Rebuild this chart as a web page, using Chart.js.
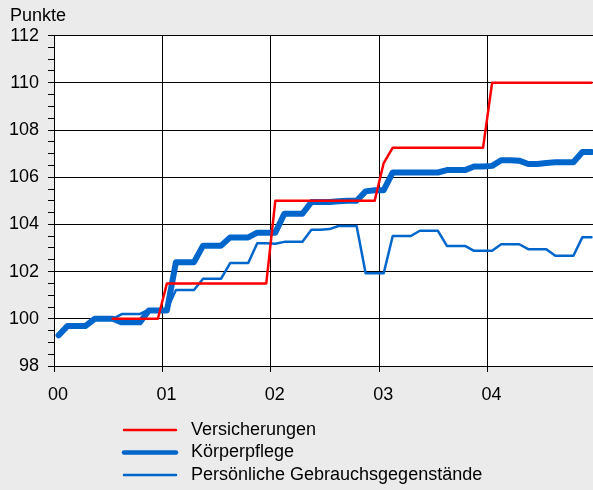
<!DOCTYPE html>
<html>
<head>
<meta charset="utf-8">
<title>Punkte</title>
<script src="https://cdn.jsdelivr.net/npm/chart.js@4.4.1/dist/chart.umd.min.js"></script>
<style>
  body { margin: 0; background: #ebebeb; }
  canvas { display: block; }
</style>
</head>
<body>
<canvas id="chart" width="593" height="490"></canvas>
<script>
// monthly index values, Jan 2000 .. Dec 2004
const versicherungen = [
  null, null, null, null, null, null, 100.0, 100.0, 100.0, 100.0, 100.0, 100.0,
  101.5, 101.5, 101.5, 101.5, 101.5, 101.5, 101.5, 101.5, 101.5, 101.5, 101.5, 101.5,
  105.0, 105.0, 105.0, 105.0, 105.0, 105.0, 105.0, 105.0, 105.0, 105.0, 105.0, 105.0,
  106.6, 107.25, 107.25, 107.25, 107.25, 107.25, 107.25, 107.25, 107.25, 107.25, 107.25, 107.25,
  110.0, 110.0, 110.0, 110.0, 110.0, 110.0, 110.0, 110.0, 110.0, 110.0, 110.0, 110.0
];
const koerperpflege = [
  99.3, 99.7, 99.7, 99.7, 100.0, 100.0, 100.0, 99.85, 99.85, 99.85, 100.35, 100.35,
  100.35, 102.4, 102.4, 102.4, 103.1, 103.1, 103.1, 103.45, 103.45, 103.45, 103.65, 103.65,
  103.65, 104.45, 104.45, 104.45, 104.95, 104.95, 104.95, 104.98, 105.0, 105.0, 105.4, 105.45,
  105.45, 106.2, 106.2, 106.2, 106.2, 106.2, 106.2, 106.3, 106.3, 106.3, 106.45, 106.45,
  106.48, 106.72, 106.72, 106.7, 106.56, 106.56, 106.6, 106.63, 106.63, 106.63, 107.07, 107.07
];
const gebrauchsgegenstaende = [
  99.3, 99.7, 99.7, 99.7, 100.0, 100.0, 100.0, 100.2, 100.2, 100.2, 100.4, 100.4,
  100.4, 101.22, 101.22, 101.22, 101.7, 101.7, 101.7, 102.36, 102.36, 102.36, 103.2, 103.2,
  103.18, 103.26, 103.26, 103.26, 103.77, 103.77, 103.8, 103.93, 103.93, 103.93, 101.93, 101.93,
  101.93, 103.51, 103.51, 103.51, 103.73, 103.73, 103.73, 103.09, 103.09, 103.09, 102.88, 102.88,
  102.88, 103.16, 103.16, 103.16, 102.95, 102.95, 102.95, 102.67, 102.67, 102.67, 103.46, 103.46
];
const yearTicks = [0, 12, 24, 36, 48];
const yearLabels = ["00", "01", "02", "03", "04"];

const fontFamily = "'Liberation Sans', Arial, sans-serif";
Chart.defaults.font.family = fontFamily;
Chart.defaults.color = "#000";

function toPoints(values) {
  return values.map((v, i) => ({ x: i + 0.5, y: v }));
}

const legendWidths = [2.5, 4.5, 2.5];

const backgroundPlugin = {
  id: "background",
  beforeDraw(chart) {
    const ctx = chart.ctx;
    const a = chart.chartArea;
    ctx.save();
    ctx.fillStyle = "#ebebeb";
    ctx.fillRect(0, 0, chart.width, chart.height);
    ctx.fillStyle = "#fff";
    ctx.fillRect(a.left, a.top, a.right - a.left, a.bottom - a.top);
    ctx.restore();
  },
};

const listLegendPlugin = {
  id: "listLegend",
  afterDraw(chart) {
    const ctx = chart.ctx;
    ctx.save();
    ctx.font = "18px " + fontFamily;
    ctx.textBaseline = "middle";
    ctx.fillStyle = "#000";
    chart.data.datasets.forEach((ds, i) => {
      const y = 430 + i * 22.5;
      ctx.strokeStyle = ds.borderColor;
      ctx.lineWidth = legendWidths[i];
      ctx.lineCap = "round";
      ctx.beginPath();
      ctx.moveTo(124, y);
      ctx.lineTo(176, y);
      ctx.stroke();
      ctx.fillText(ds.label, 191, y);
    });
    ctx.restore();
  },
};

new Chart(document.getElementById("chart"), {
  type: "line",
  data: {
    datasets: [
      {
        label: "Versicherungen",
        data: toPoints(versicherungen),
        borderColor: "#ff0000",
        borderWidth: 2.5,
      },
      {
        label: "Körperpflege",
        data: toPoints(koerperpflege),
        borderColor: "#0066cc",
        borderWidth: 6,
      },
      {
        label: "Persönliche Gebrauchsgegenstände",
        data: toPoints(gebrauchsgegenstaende),
        borderColor: "#0066cc",
        borderWidth: 2.5,
      },
    ],
  },
  options: {
    responsive: false,
    animation: false,
    devicePixelRatio: 1,
    layout: { padding: { left: 10, right: 0, top: 0, bottom: 84 } },
    elements: {
      point: { radius: 0 },
      line: { tension: 0, borderJoinStyle: "round", borderCapStyle: "round" },
    },
    plugins: {
      legend: { display: false },
      tooltip: { enabled: false },
      title: {
        display: true,
        text: "Punkte",
        align: "start",
        color: "#000",
        font: { size: 18, weight: "normal" },
        padding: { top: 5, bottom: 9 },
      },
    },
    scales: {
      x: {
        type: "linear",
        min: 0,
        max: 59.67,
        afterBuildTicks: (scale) => {
          scale.ticks = yearTicks.map((v) => ({ value: v }));
        },
        afterFit: (scale) => {
          scale.height = 40;
        },
        ticks: {
          autoSkip: false,
          maxRotation: 0,
          padding: 12,
          labelOffset: 4,
          font: { size: 18 },
          color: "#000",
          callback: (v) => yearLabels[yearTicks.indexOf(v)],
        },
        grid: { color: "#000", tickColor: "#000", tickLength: 6 },
        border: { color: "#000", width: 1 },
      },
      y: {
        min: 98,
        max: 112,
        afterFit: (scale) => {
          scale.width = 44;
        },
        ticks: {
          stepSize: 0.5,
          autoSkip: false,
          padding: 9,
          font: { size: 18 },
          color: "#000",
          callback: (v) => (v % 2 === 0 ? v : ""),
        },
        grid: {
          color: (c) => (c.tick && c.tick.value % 2 === 0 ? "#000" : "rgba(0,0,0,0)"),
          tickColor: "#000",
          tickLength: 6,
        },
        border: { color: "#000", width: 1 },
      },
    },
  },
  plugins: [backgroundPlugin, listLegendPlugin],
});
</script>
</body>
</html>
